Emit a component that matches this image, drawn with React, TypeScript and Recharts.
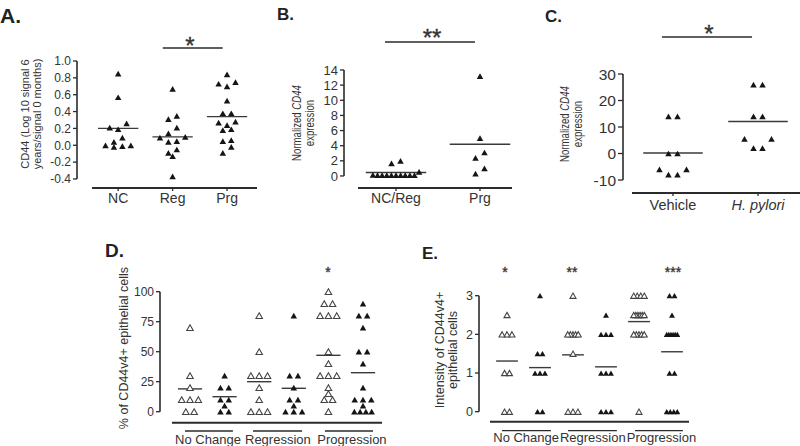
import React from "react";
import { ScatterChart, Scatter, XAxis, YAxis, ReferenceLine } from "recharts";

const INK = "#333333";
const AXIS = "#2b2b2b";
const FONT = "'Liberation Sans', Arial, Helvetica, sans-serif";

// A. CD44, log10 signal 6 years / signal 0 months
const A_LABELS = ["NC", "Reg", "Prg"];
const A_NC = [0.85, 0.57, 0.26, 0.21, 0.19, 0.09, 0.04, 0.0, 0.0, -0.01, -0.02];
const A_REG = [0.67, 0.35, 0.31, 0.21, 0.14, 0.1, 0.09, 0.05, 0.04, -0.05, -0.09, -0.13, -0.37];
const A_PRG = [0.84, 0.75, 0.73, 0.7, 0.53, 0.38, 0.38, 0.28, 0.27, 0.24, 0.19, 0.18, 0.06, 0.05, -0.02, -0.09];
const A_MEANS = [0.2, 0.1, 0.34];
const A_TICKS = [-0.4, -0.2, 0, 0.2, 0.4, 0.6, 0.8, 1.0];

// B. normalized CD44 expression
const B_LABELS = ["NC/Reg", "Prg"];
const B_NCREG = [2.0, 1.65, 0.55, 0.15, 0.1, 0.1, 0.1, 0.1, 0.1, 0.1, 0.1, 0.1, 0.1];
const B_PRG = [13.2, 5.0, 3.1, 2.4, 1.0, 0.3];
const B_MEANS = [0.45, 4.2];
const B_TICKS = [0, 2, 4, 6, 8, 10, 12, 14];

// C. normalized CD44 expression, mice
const C_LABELS = ["Vehicle", "H. pylori"];
const C_VEHICLE = [14, 14, 0, 0, -6, -8, -8, -6];
const C_HPYLORI = [26, 26, 14, 14, 5.5, 5.5, 2, 2];
const C_MEANS = [0.2, 12.1];
const C_TICKS = [-10, 0, 10, 20, 30];

// D. % of CD44v4+ epithelial cells (open / filled per group)
const GROUPS = ["No Change", "Regression", "Progression"];
const D_NC_OPEN = [70, 30, 20, 10, 10, 10, 0, 0];
const D_NC_FILLED = [30, 20, 20, 10, 10, 5, 0, 0];
const D_REG_OPEN = [80, 50, 30, 30, 30, 20, 10, 0, 0, 0];
const D_REG_FILLED = [80, 30, 30, 20, 10, 10, 5, 0, 0, 0];
const D_PRG_OPEN = [100, 90, 90, 80, 80, 80, 50, 40, 30, 30, 30, 20, 15, 10, 10, 0];
const D_PRG_FILLED = [90, 80, 80, 70, 50, 50, 40, 20, 10, 10, 10, 5, 0, 0, 0, 0];
const D_MEANS = [19, 12.5, 25, 19.5, 47, 32.5];
const D_TICKS = [0, 25, 50, 75, 100];

// E. intensity of CD44v4+ epithelial cells
const E_NC_OPEN = [2.5, 2, 2, 2, 1, 1, 0, 0];
const E_NC_FILLED = [3, 1.5, 1.5, 1, 1, 1, 0, 0];
const E_REG_OPEN = [3, 2, 2, 2, 2, 2, 1.5, 0, 0, 0];
const E_REG_FILLED = [2.5, 2, 2, 2, 1, 1, 1, 0, 0, 0];
const E_PRG_OPEN = [3, 3, 3, 3, 2.5, 2.5, 2.5, 2.5, 2.5, 2.5, 2, 2, 2, 2, 2, 0];
const E_PRG_FILLED = [3, 3, 2.5, 2, 2, 2, 2, 2, 2, 1, 1, 0, 0, 0, 0];
const E_MEANS = [1.31, 1.14, 1.47, 1.16, 2.33, 1.55];
const E_TICKS = [0, 1, 2, 3];

type Pt = { x: number; y: number };

// lay equal-ish values side by side, lowest values in the middle of a row
function spread(values: number[], center: number, rowGap: number, step: number, maxSpan: number): Pt[] {
  const sorted = [...values].sort((a, b) => b - a);
  const rows: number[][] = [];
  sorted.forEach((v) => {
    const row = rows[rows.length - 1];
    if (row && row[0] - v < rowGap) row.push(v);
    else rows.push([v]);
  });
  const pts: Pt[] = [];
  rows.forEach((row) => {
    const n = row.length;
    const gap = n > 1 ? Math.min(step, maxSpan / (n - 1)) : 0;
    const slots = row
      .map((_, i) => i - (n - 1) / 2)
      .sort((a, b) => Math.abs(a) - Math.abs(b) || a - b);
    [...row].sort((a, b) => a - b).forEach((v, i) => pts.push({ x: center + slots[i] * gap, y: v }));
  });
  return pts;
}

function Triangle(props: any) {
  const { cx, cy, filled, size } = props;
  if (cx == null || cy == null) return null;
  const h = size * 0.88;
  const d = `M${cx},${cy - h / 2}L${cx + size / 2},${cy + h / 2}L${cx - size / 2},${cy + h / 2}Z`;
  return filled ? (
    <path d={d} fill="#151515" />
  ) : (
    <path d={d} fill="#ffffff" stroke="#444" strokeWidth={1.1} />
  );
}

function CategoryTick(props: any) {
  const { x, y, payload, ticks, labels, fontSize, italic } = props;
  let i = ticks.indexOf(payload.value);
  if (i < 0) i = ticks.findIndex((t: number) => Math.abs(t - payload.value) < 1e-6);
  return (
    <text
      x={x}
      y={y}
      dy="0.71em"
      textAnchor="middle"
      fontSize={fontSize}
      fill={INK}
      fontFamily={FONT}
      fontStyle={italic && italic[i] ? "italic" : "normal"}
    >
      {labels[i] ?? ""}
    </text>
  );
}

type Series = { values: number[]; center: number; filled: boolean; mean: number };
type Bar = { x1: number; x2: number; y: number; w?: number };

type PanelProps = {
  left: number;
  top: number;
  width: number;
  height: number;
  yAxisWidth: number;
  marginTop: number;
  marginRight: number;
  xAxisHeight: number;
  xDomain: [number, number];
  yDomain: [number, number];
  yTicks: number[];
  yFormat?: (v: number) => string;
  yFont: number;
  yTickSize: number;
  xTicks: number[];
  xLabels: string[];
  xItalic?: boolean[];
  xFont: number;
  xTickSize: number;
  xTickGap: number;
  axisStart: number;
  series: Series[];
  rowGap: number;
  step: number;
  maxSpan: number;
  meanHalf: number;
  markSize: number;
  bars: Bar[];
};

function DotPanel(p: PanelProps) {
  const yMin = p.yDomain[0];
  return (
    <div style={{ position: "absolute", left: p.left, top: p.top }}>
      <ScatterChart
        width={p.width}
        height={p.height}
        margin={{ top: p.marginTop, right: p.marginRight, bottom: 0, left: 0 }}
      >
        <XAxis
          type="number"
          dataKey="x"
          domain={p.xDomain}
          ticks={p.xTicks}
          interval={0}
          height={p.xAxisHeight}
          axisLine={false}
          tickLine={p.xTickSize > 0 ? { stroke: AXIS, strokeWidth: 1.3 } : false}
          tickSize={p.xTickSize}
          tickMargin={p.xTickGap}
          tick={(t: any) => (
            <CategoryTick {...t} ticks={p.xTicks} labels={p.xLabels} fontSize={p.xFont} italic={p.xItalic} />
          )}
        />
        <YAxis
          type="number"
          dataKey="y"
          domain={p.yDomain}
          ticks={p.yTicks}
          interval={0}
          width={p.yAxisWidth}
          axisLine={false}
          tickLine={{ stroke: AXIS, strokeWidth: 1.3 }}
          tickSize={p.yTickSize}
          tickMargin={2}
          tickFormatter={p.yFormat}
          tick={{ fontSize: p.yFont, fill: INK, fontFamily: FONT }}
        />
        <ReferenceLine
          segment={[
            { x: p.xDomain[0], y: p.yTicks[0] },
            { x: p.xDomain[0], y: p.yTicks[p.yTicks.length - 1] },
          ]}
          stroke={AXIS}
          strokeWidth={1.6}
          ifOverflow="visible"
        />
        <ReferenceLine
          segment={[
            { x: p.axisStart, y: yMin },
            { x: p.xDomain[1], y: yMin },
          ]}
          stroke={AXIS}
          strokeWidth={2}
          ifOverflow="visible"
        />
        {p.bars.map((b, i) => (
          <ReferenceLine
            key={`bar${i}`}
            segment={[
              { x: b.x1, y: b.y },
              { x: b.x2, y: b.y },
            ]}
            stroke={AXIS}
            strokeWidth={b.w ?? 1.4}
            ifOverflow="visible"
          />
        ))}
        {p.series.map((s, i) => (
          <Scatter
            key={`s${i}`}
            data={spread(s.values, s.center, p.rowGap, p.step, p.maxSpan)}
            isAnimationActive={false}
            shape={(sp: any) => <Triangle {...sp} filled={s.filled} size={p.markSize} />}
          />
        ))}
        {p.series.map((s, i) => (
          <ReferenceLine
            key={`m${i}`}
            segment={[
              { x: s.center - p.meanHalf, y: s.mean },
              { x: s.center + p.meanHalf, y: s.mean },
            ]}
            stroke="#3a3a3a"
            strokeWidth={1.4}
            ifOverflow="visible"
          />
        ))}
      </ScatterChart>
    </div>
  );
}

function RotLabel({
  cx,
  cy,
  fontSize,
  lineHeight,
  squeeze = 1,
  children,
}: {
  cx: number;
  cy: number;
  fontSize: number;
  lineHeight: number;
  squeeze?: number;
  children: React.ReactNode;
}) {
  return (
    <div
      style={{
        position: "absolute",
        left: cx,
        top: cy,
        transform: `translate(-50%, -50%) rotate(-90deg) scaleX(${squeeze})`,
        whiteSpace: "nowrap",
        textAlign: "center",
        fontSize,
        lineHeight: `${lineHeight}px`,
        color: INK,
      }}
    >
      {children}
    </div>
  );
}

// significance asterisks
const STARS = [
  { x: 190, y: 40, size: 24, text: "*" },
  { x: 432, y: 32, size: 24, text: "**" },
  { x: 709, y: 28, size: 24, text: "*" },
  { x: 328, y: 269, size: 14, text: "*" },
  { x: 505, y: 269, size: 14, text: "*" },
  { x: 572, y: 269, size: 14, text: "**" },
  { x: 673, y: 269, size: 14, text: "***" },
];

function Letter({ x, capTop, size, children }: { x: number; capTop: number; size: number; children: React.ReactNode }) {
  return (
    <div
      style={{
        position: "absolute",
        left: x,
        top: capTop - size * 0.13,
        fontSize: size,
        lineHeight: 1,
        fontWeight: "bold",
        color: "#222",
      }}
    >
      {children}
    </div>
  );
}

export default function App() {
  const pairCenters = [1, 2, 3, 4, 5, 6];
  const dSeries: Series[] = [D_NC_OPEN, D_NC_FILLED, D_REG_OPEN, D_REG_FILLED, D_PRG_OPEN, D_PRG_FILLED].map(
    (values, i) => ({ values, center: pairCenters[i], filled: i % 2 === 1, mean: D_MEANS[i] })
  );
  const eSeries: Series[] = [E_NC_OPEN, E_NC_FILLED, E_REG_OPEN, E_REG_FILLED, E_PRG_OPEN, E_PRG_FILLED].map(
    (values, i) => ({ values, center: pairCenters[i], filled: i % 2 === 1, mean: E_MEANS[i] })
  );

  return (
    <div
      style={{
        position: "absolute",
        left: 0,
        top: 0,
        width: 800,
        height: 446,
        background: "#fff",
        fontFamily: FONT,
        overflow: "hidden",
      }}
    >
      {/* A */}
      <Letter x={0} capTop={8} size={21}>A.</Letter>
      <RotLabel cx={31} cy={114} fontSize={11} lineHeight={12}>
        <div>CD44 (Log 10 signal 6</div>
        <div>years/signal 0 months)</div>
      </RotLabel>
      <DotPanel
        left={20}
        top={0}
        width={250}
        height={215}
        yAxisWidth={57}
        marginTop={61}
        marginRight={13}
        xAxisHeight={27}
        xDomain={[0.244, 3.55]}
        yDomain={[-0.507, 1.0]}
        yTicks={A_TICKS}
        yFormat={(v) => v.toFixed(1)}
        yFont={12}
        yTickSize={4}
        xTicks={[1, 2, 3]}
        xLabels={A_LABELS}
        xFont={14}
        xTickSize={3}
        xTickGap={2}
        axisStart={0.52}
        series={[
          { values: A_NC, center: 1, filled: true, mean: A_MEANS[0] },
          { values: A_REG, center: 2, filled: true, mean: A_MEANS[1] },
          { values: A_PRG, center: 3, filled: true, mean: A_MEANS[2] },
        ]}
        rowGap={0.08}
        step={0.155}
        maxSpan={0.6}
        meanHalf={0.37}
        markSize={6.5}
        bars={[{ x1: 1.82, x2: 2.92, y: 1.154, w: 1.6 }]}
      />

      {/* B */}
      <Letter x={277} capTop={8} size={17}>B.</Letter>
      <RotLabel cx={303.5} cy={123} fontSize={12} lineHeight={13} squeeze={0.8}>
        <div>
          Normalized <i>CD44</i>
        </div>
        <div>expression</div>
      </RotLabel>
      <DotPanel
        left={280}
        top={0}
        width={240}
        height={215}
        yAxisWidth={64}
        marginTop={70}
        marginRight={8}
        xAxisHeight={27}
        xDomain={[0.381, 2.381]}
        yDomain={[-1.59, 14]}
        yTicks={B_TICKS}
        yFont={13}
        yTickSize={4}
        xTicks={[1, 2]}
        xLabels={B_LABELS}
        xFont={14}
        xTickSize={3}
        xTickGap={2}
        axisStart={0.548}
        series={[
          { values: B_NCREG, center: 1, filled: true, mean: B_MEANS[0] },
          { values: B_PRG, center: 2, filled: true, mean: B_MEANS[1] },
        ]}
        rowGap={0.8}
        step={0.107}
        maxSpan={0.55}
        meanHalf={0.36}
        markSize={6.5}
        bars={[{ x1: 0.869, x2: 1.94, y: 17.7, w: 1.6 }]}
      />

      {/* C */}
      <Letter x={545} capTop={10} size={17}>C.</Letter>
      <RotLabel cx={571.5} cy={124} fontSize={12} lineHeight={13} squeeze={0.8}>
        <div>
          Normalized <i>CD44</i>
        </div>
        <div>expression</div>
      </RotLabel>
      <DotPanel
        left={580}
        top={0}
        width={220}
        height={220}
        yAxisWidth={43}
        marginTop={74}
        marginRight={0}
        xAxisHeight={27}
        xDomain={[0.412, 2.494]}
        yDomain={[-14.9, 30]}
        yTicks={C_TICKS}
        yFont={15.5}
        yTickSize={5}
        xTicks={[1, 2]}
        xLabels={C_LABELS}
        xItalic={[false, true]}
        xFont={14.5}
        xTickSize={3}
        xTickGap={4}
        axisStart={0.518}
        series={[
          { values: C_VEHICLE, center: 1, filled: true, mean: C_MEANS[0] },
          { values: C_HPYLORI, center: 2, filled: true, mean: C_MEANS[1] },
        ]}
        rowGap={4}
        step={0.106}
        maxSpan={0.4}
        meanHalf={0.35}
        markSize={6.5}
        bars={[{ x1: 0.87, x2: 1.93, y: 43.96, w: 1.6 }]}
      />

      {/* D */}
      <Letter x={105} capTop={243} size={19}>D.</Letter>
      <RotLabel cx={124} cy={348} fontSize={12.5} lineHeight={14}>
        % of CD44v4+ epithelial cells
      </RotLabel>
      <DotPanel
        left={100}
        top={250}
        width={290}
        height={200}
        yAxisWidth={60}
        marginTop={41.7}
        marginRight={8}
        xAxisHeight={27.3}
        xDomain={[0.133, 6.549]}
        yDomain={[-9.17, 100]}
        yTicks={D_TICKS}
        yFont={12}
        yTickSize={4}
        xTicks={[1.52, 3.54, 5.68]}
        xLabels={GROUPS}
        xFont={13}
        xTickSize={0}
        xTickGap={12}
        axisStart={0.48}
        series={dSeries}
        rowGap={5}
        step={0.24}
        maxSpan={0.5}
        meanHalf={0.35}
        markSize={6.5}
        bars={[
          { x1: 0.855, x2: 2.24, y: -16.1, w: 1.3 },
          { x1: 2.82, x2: 4.24, y: -16.1, w: 1.3 },
          { x1: 4.9, x2: 6.29, y: -16.1, w: 1.3 },
        ]}
      />

      {/* E */}
      <Letter x={422} capTop={247} size={17}>E.</Letter>
      <RotLabel cx={446.5} cy={350} fontSize={12.5} lineHeight={13}>
        <div>Intensity of CD44v4+</div>
        <div>epithelial cells</div>
      </RotLabel>
      <DotPanel
        left={420}
        top={250}
        width={280}
        height={200}
        yAxisWidth={59}
        marginTop={45.7}
        marginRight={11}
        xAxisHeight={28.3}
        xDomain={[0.1515, 6.515]}
        yDomain={[-0.259, 3]}
        yTicks={E_TICKS}
        yFont={12.5}
        yTickSize={4}
        xTicks={[1.58, 3.6, 5.68]}
        xLabels={GROUPS}
        xFont={13}
        xTickSize={0}
        xTickGap={11}
        axisStart={0.485}
        series={eSeries}
        rowGap={0.2}
        step={0.15}
        maxSpan={0.32}
        meanHalf={0.33}
        markSize={6}
        bars={[
          { x1: 0.85, x2: 2.33, y: -0.491, w: 1.3 },
          { x1: 2.85, x2: 4.33, y: -0.491, w: 1.3 },
          { x1: 4.88, x2: 6.33, y: -0.491, w: 1.3 },
        ]}
      />

      <svg
        width={800}
        height={446}
        style={{ position: "absolute", left: 0, top: 0, pointerEvents: "none" }}
      >
        {STARS.map((s, i) => (
          <text
            key={i}
            x={s.x}
            y={s.y + s.size * 0.57}
            textAnchor="middle"
            fontSize={s.size}
            fontFamily={FONT}
            fill={INK}
            stroke={INK}
            strokeWidth={0.35}
          >
            {s.text}
          </text>
        ))}
      </svg>
    </div>
  );
}
